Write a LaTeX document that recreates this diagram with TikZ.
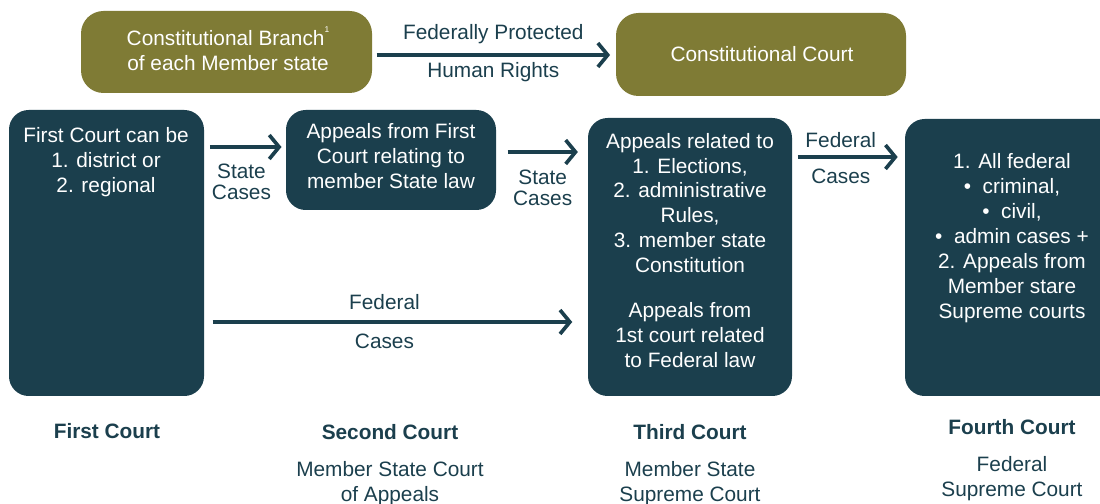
\documentclass[tikz,border=0pt]{standalone}
\usepackage{fontspec}
\setmainfont{Liberation Sans}
\usetikzlibrary{positioning,arrows.meta,fit}
\definecolor{courtteal}{RGB}{27,63,77}
\definecolor{courtolive}{RGB}{127,123,53}

\begin{document}
\begin{tikzpicture}[x=0.025cm,y=-0.025cm,
	box/.style={fill=courtteal,rounded corners=14pt,inner sep=0pt},
	olivebox/.style={fill=courtolive,rounded corners=16pt,inner sep=0pt},
	txt/.style={text=white,align=center,font=\fontsize{14.8}{17.7}\selectfont},
	lbl/.style={text=courtteal,align=center,font=\fontsize{14.8}{15}\selectfont},
	head/.style={text=courtteal,align=center,font=\fontsize{14.8}{17.7}\selectfont\bfseries},
	flow/.style={-{Straight Barb[length=7pt,width=17pt,line width=2.6pt]},line width=2.8pt,draw=courtteal}]
	\useasboundingbox (0,0) rectangle (1100,504);

	% top row
	\node[olivebox,fit={(81,11) (372,93)}] (branch) {};
	\node[txt] at (228,49) {Constitutional Branch\raisebox{1.2ex}{\fontsize{6}{6}\selectfont 1}\\of each Member state};
	\node[olivebox,fit={(616,13) (906,96)}] (ccourt) {};
	\node[txt] at (762,54) {Constitutional Court};

	% courts
	\node[box,fit={(9,110) (204,396)}] (first) {};
	\node[box,fit={(286,110) (496,210)}] (second) {};
	\node[box,fit={(588,118) (792,396)}] (third) {};
	\node[box,fit={(905,119) (1122,396)}] (fourth) {};

	\node[txt] at (106,162) {First Court can be\\1. district or\\2. regional};
	\node[txt] at (391,156) {Appeals from First\\Court relating to\\member State law};
	\node[txt] at (690,203) {Appeals related to\\1. Elections,\\2. administrative\\Rules,\\3. member state\\Constitution};
	\node[txt] at (690,335) {Appeals from\\1st court related\\to Federal law};
	\node[txt] at (1012,238) {1. All federal\\\textbullet\ \ criminal,\\\textbullet\ \ civil,\\\textbullet\ \ admin cases +\\2. Appeals from\\Member stare\\Supreme courts};

	% arrows
	\draw[flow] ([xshift=3pt]branch.east |- 0,55) -- ([xshift=-4pt]ccourt.west |- 0,55)
		node[lbl,midway,yshift=15pt] {Federally Protected}
		node[lbl,midway,yshift=-12pt] {Human Rights};
	\draw[flow] ([xshift=4pt]first.east |- 0,147) -- ([xshift=-3pt]second.west |- 0,147)
		node[lbl,midway,xshift=-3pt,yshift=-25pt] {State\\Cases};
	\draw[flow] ([xshift=8pt]second.east |- 0,152) -- ([xshift=-7pt]third.west |- 0,152)
		node[lbl,midway,yshift=-25.5pt] {State\\Cases};
	\draw[flow] ([xshift=4pt]third.east |- 0,157) -- ([xshift=-5pt]fourth.west |- 0,157)
		node[lbl,midway,xshift=-5pt,yshift=12pt] {Federal}
		node[lbl,midway,xshift=-5pt,yshift=-13.5pt] {Cases};
	\draw[flow] ([xshift=6pt]first.east |- 0,322) -- ([xshift=-11pt]third.west |- 0,322)
		node[lbl,midway,xshift=-5.7pt,yshift=14pt] {Federal}
		node[lbl,midway,xshift=-5.7pt,yshift=-13.5pt] {Cases};

	% names below
	\node[head] (n1) at (107,431) {First Court};
	\node[head] (n2) at (390,432) {Second Court};
	\node[lbl,font=\fontsize{14.8}{17.7}\selectfont] at (390,484) {Member State Court\\of Appeals};
	\node[head] (n3) at (690,432) {Third Court};
	\node[lbl,font=\fontsize{14.8}{17.7}\selectfont] at (690,484) {Member State\\Supreme Court};
	\node[head] (n4) at (1012,427) {Fourth Court};
	\node[lbl,font=\fontsize{14.8}{17.7}\selectfont] at (1012,479) {Federal\\Supreme Court};
\end{tikzpicture}
\end{document}
